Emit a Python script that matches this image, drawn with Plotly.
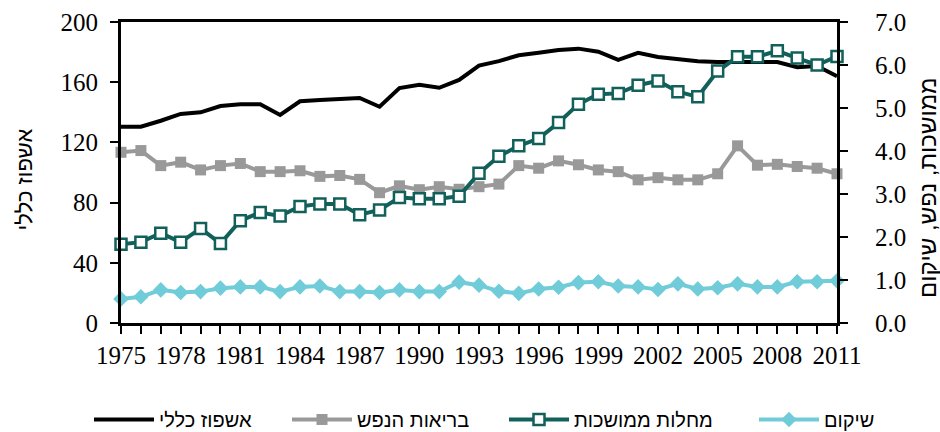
import plotly.graph_objects as go

years = [1975, 1976, 1977, 1978, 1979, 1980, 1981, 1982, 1983, 1984,
         1985, 1986, 1987, 1988, 1989, 1990, 1991, 1992, 1993, 1994,
         1995, 1996, 1997, 1998, 1999, 2000, 2001, 2002, 2003, 2004,
         2005, 2006, 2007, 2008, 2009, 2010, 2011]

general = [130.4, 130.4, 134.4, 138.9, 140.0, 144.2, 145.3, 145.3, 138.2, 147.3,
           148.2, 149.0, 149.5, 143.7, 156.1, 158.3, 156.3, 161.5, 171.0, 174.0,
           177.9, 179.6, 181.4, 182.3, 180.3, 174.8, 179.5, 176.7, 175.4, 174.0,
           173.4, 173.4, 173.4, 173.4, 170.0, 170.8, 164.0]

mental = [3.97, 4.01, 3.66, 3.74, 3.56, 3.66, 3.71, 3.52, 3.52, 3.54,
          3.41, 3.43, 3.34, 3.03, 3.19, 3.10, 3.17, 3.11, 3.17, 3.23,
          3.66, 3.60, 3.77, 3.68, 3.56, 3.52, 3.33, 3.38, 3.33, 3.33,
          3.47, 4.12, 3.67, 3.69, 3.64, 3.60, 3.47]

chronic = [1.83, 1.88, 2.09, 1.88, 2.20, 1.85, 2.38, 2.57, 2.49, 2.71,
           2.77, 2.77, 2.52, 2.63, 2.92, 2.89, 2.89, 2.95, 3.48, 3.88,
           4.12, 4.29, 4.66, 5.09, 5.32, 5.34, 5.53, 5.63, 5.38, 5.26,
           5.86, 6.19, 6.19, 6.33, 6.16, 6.00, 6.20]

rehab = [0.56, 0.61, 0.77, 0.71, 0.73, 0.81, 0.84, 0.84, 0.73, 0.84,
         0.86, 0.73, 0.73, 0.71, 0.77, 0.73, 0.73, 0.95, 0.88, 0.74,
         0.69, 0.79, 0.83, 0.94, 0.96, 0.86, 0.84, 0.78, 0.91, 0.79,
         0.82, 0.91, 0.84, 0.84, 0.96, 0.96, 0.98]

names = ["אשפוז כללי", "בריאות הנפש", "מחלות ממושכות", "שיקום"]
left_title = "אשפוז כללי"
right_title = "ממושכות, נפש, שיקום"

BLACK = "#000000"
GRAY = "#999999"
TEAL = "#11605a"
CYAN = "#70ccd8"

heb = "Liberation Sans, DejaVu Sans, Arial, sans-serif"
serif = "Liberation Serif, Times New Roman, serif"

fig = go.Figure()
fig.add_trace(go.Scatter(x=years, y=general, name=names[0], mode="lines",
                         line=dict(color=BLACK, width=4), cliponaxis=False,
                         legend="legend"))
fig.add_trace(go.Scatter(x=years, y=mental, name=names[1], mode="lines+markers",
                         line=dict(color=GRAY, width=4),
                         marker=dict(symbol="square", size=11, color=GRAY),
                         yaxis="y2", cliponaxis=False, legend="legend2"))
fig.add_trace(go.Scatter(x=years, y=chronic, name=names[2], mode="lines+markers",
                         line=dict(color=TEAL, width=4),
                         marker=dict(symbol="square", size=11, color="white",
                                     line=dict(color=TEAL, width=2.5)),
                         yaxis="y2", cliponaxis=False, legend="legend3"))
fig.add_trace(go.Scatter(x=years, y=rehab, name=names[3], mode="lines+markers",
                         line=dict(color=CYAN, width=4),
                         marker=dict(symbol="diamond", size=12, color=CYAN),
                         yaxis="y2", cliponaxis=False, legend="legend4"))


def leg(xpx):
    return dict(orientation="h", xref="container", yref="container",
                x=xpx / 940, y=0.029, xanchor="left", yanchor="middle",
                font=dict(family=heb, size=20, color="black"),
                itemwidth=60, bgcolor="rgba(0,0,0,0)")


fig.update_layout(
    width=940, height=432,
    margin=dict(l=121, r=103, t=22, b=109, autoexpand=False),
    paper_bgcolor="white", plot_bgcolor="white",
    showlegend=True,
    legend=leg(89), legend2=leg(287), legend3=leg(504), legend4=leg(754),
    xaxis=dict(range=[1975, 2011], tickmode="array",
               tickvals=list(range(1975, 2012, 3)),
               showgrid=False, zeroline=False, automargin=False,
               showline=True, linecolor="black", linewidth=2.5, mirror=True,
               ticks="outside", ticklen=8, tickwidth=2, tickcolor="black",
               minor=dict(tickmode="array", tickvals=years, ticks="outside",
                          ticklen=8, tickwidth=2, tickcolor="black", showgrid=False),
               tickfont=dict(family=serif, size=25, color="black")),
    yaxis=dict(range=[0, 200], dtick=40, tick0=0, automargin=False,
               showgrid=False, zeroline=False,
               showline=True, linecolor="black", linewidth=3,
               ticks="outside", ticklen=8, tickwidth=2, tickcolor="black",
               ticklabelstandoff=7,
               tickfont=dict(family=serif, size=25, color="black")),
    yaxis2=dict(range=[0, 7], dtick=1, tick0=0, tickformat=".1f",
                overlaying="y", side="right", automargin=False,
                showgrid=False, zeroline=False,
                showline=True, linecolor="black", linewidth=3,
                ticks="outside", ticklen=8, tickwidth=2, tickcolor="black",
                ticklabelstandoff=22,
                tickfont=dict(family=serif, size=25, color="black")),
    annotations=[
        dict(text=left_title, xref="paper", yref="paper", x=-0.135, y=0.478,
             xanchor="center", yanchor="middle", textangle=-90, showarrow=False,
             font=dict(family=heb, size=22, color="black")),
        dict(text=right_title, xref="paper", yref="paper", x=1.1265, y=0.45,
             xanchor="center", yanchor="middle", textangle=-90, showarrow=False,
             font=dict(family=heb, size=24, color="black")),
    ],
)

fig.write_html("out.html", config={"displayModeBar": False},
               post_script="document.body.style.margin='0px';")
